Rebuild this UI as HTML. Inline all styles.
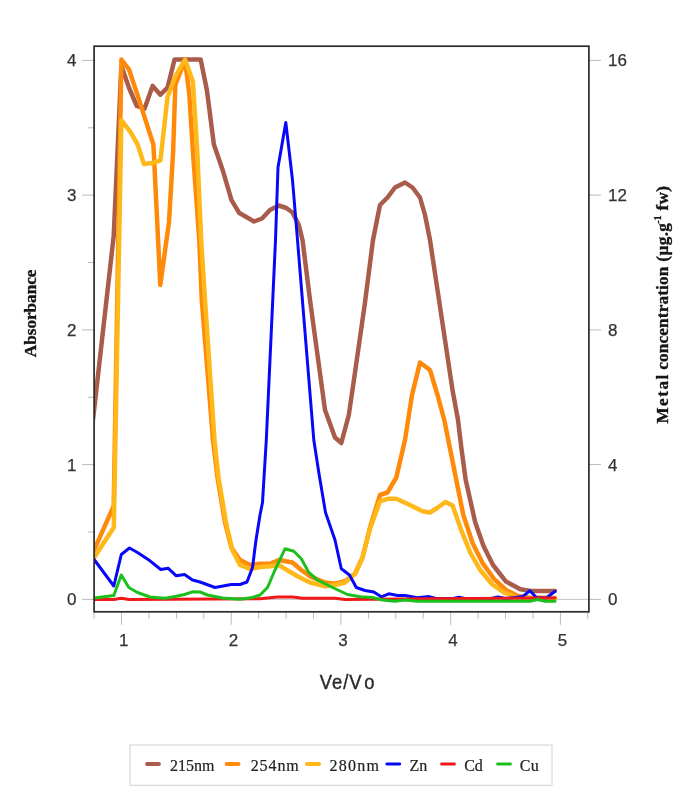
<!DOCTYPE html>
<html lang="en"><head><meta charset="utf-8"><title>Ve/Vo chart</title>
<style>html,body{margin:0;padding:0;background:#fff;}body{width:685px;height:799px;position:relative;overflow:hidden;}</style>
</head><body>
<svg width="685" height="799" viewBox="0 0 685 799" style="position:absolute;left:0;top:0;filter:blur(0.45px)">
<rect x="0" y="0" width="685" height="799" fill="#fff"/>
<line x1="94.1" y1="599.4" x2="588.9" y2="599.4" stroke="#c4c4c4" stroke-width="1"/>
<line x1="82" y1="599.4" x2="94.1" y2="599.4" stroke="#bababa" stroke-width="1"/>
<line x1="588.9" y1="599.4" x2="601" y2="599.4" stroke="#bababa" stroke-width="1"/>
<line x1="82" y1="464.6" x2="94.1" y2="464.6" stroke="#bababa" stroke-width="1"/>
<line x1="588.9" y1="464.6" x2="601" y2="464.6" stroke="#bababa" stroke-width="1"/>
<line x1="82" y1="329.9" x2="94.1" y2="329.9" stroke="#bababa" stroke-width="1"/>
<line x1="588.9" y1="329.9" x2="601" y2="329.9" stroke="#bababa" stroke-width="1"/>
<line x1="82" y1="195.1" x2="94.1" y2="195.1" stroke="#bababa" stroke-width="1"/>
<line x1="588.9" y1="195.1" x2="601" y2="195.1" stroke="#bababa" stroke-width="1"/>
<line x1="82" y1="60.4" x2="94.1" y2="60.4" stroke="#bababa" stroke-width="1"/>
<line x1="588.9" y1="60.4" x2="601" y2="60.4" stroke="#bababa" stroke-width="1"/>
<line x1="88" y1="532.0" x2="94.1" y2="532.0" stroke="#bababa" stroke-width="1"/>
<line x1="88" y1="397.3" x2="94.1" y2="397.3" stroke="#bababa" stroke-width="1"/>
<line x1="88" y1="262.5" x2="94.1" y2="262.5" stroke="#bababa" stroke-width="1"/>
<line x1="88" y1="127.8" x2="94.1" y2="127.8" stroke="#bababa" stroke-width="1"/>
<line x1="94.1" y1="611.8" x2="94.1" y2="618.8" stroke="#bababa" stroke-width="1"/>
<line x1="121.5" y1="611.8" x2="121.5" y2="624.8" stroke="#bababa" stroke-width="1"/>
<line x1="148.9" y1="611.8" x2="148.9" y2="618.8" stroke="#bababa" stroke-width="1"/>
<line x1="176.4" y1="611.8" x2="176.4" y2="618.8" stroke="#bababa" stroke-width="1"/>
<line x1="203.8" y1="611.8" x2="203.8" y2="618.8" stroke="#bababa" stroke-width="1"/>
<line x1="231.2" y1="611.8" x2="231.2" y2="624.8" stroke="#bababa" stroke-width="1"/>
<line x1="258.7" y1="611.8" x2="258.7" y2="618.8" stroke="#bababa" stroke-width="1"/>
<line x1="286.1" y1="611.8" x2="286.1" y2="618.8" stroke="#bababa" stroke-width="1"/>
<line x1="313.5" y1="611.8" x2="313.5" y2="618.8" stroke="#bababa" stroke-width="1"/>
<line x1="340.9" y1="611.8" x2="340.9" y2="624.8" stroke="#bababa" stroke-width="1"/>
<line x1="368.4" y1="611.8" x2="368.4" y2="618.8" stroke="#bababa" stroke-width="1"/>
<line x1="395.8" y1="611.8" x2="395.8" y2="618.8" stroke="#bababa" stroke-width="1"/>
<line x1="423.2" y1="611.8" x2="423.2" y2="618.8" stroke="#bababa" stroke-width="1"/>
<line x1="450.7" y1="611.8" x2="450.7" y2="624.8" stroke="#bababa" stroke-width="1"/>
<line x1="478.1" y1="611.8" x2="478.1" y2="618.8" stroke="#bababa" stroke-width="1"/>
<line x1="505.5" y1="611.8" x2="505.5" y2="618.8" stroke="#bababa" stroke-width="1"/>
<line x1="533.0" y1="611.8" x2="533.0" y2="618.8" stroke="#bababa" stroke-width="1"/>
<line x1="560.4" y1="611.8" x2="560.4" y2="624.8" stroke="#bababa" stroke-width="1"/>
<line x1="587.8" y1="611.8" x2="587.8" y2="618.8" stroke="#bababa" stroke-width="1"/>
<clipPath id="c"><rect x="94.1" y="46.2" width="494.8" height="565.6"/></clipPath>
<g clip-path="url(#c)" fill="none" stroke-linejoin="round" stroke-linecap="round">
<polyline points="92.0,428.0 94.1,410.0 113.7,236.0 121.4,66.0 129.1,88.0 136.8,106.0 144.5,108.7 152.6,85.9 160.4,94.7 167.5,87.7 174.5,59.6 200.7,59.6 206.9,90.3 213.9,144.6 222.7,170.2 231.5,200.2 239.0,212.7 254.0,221.5 262.0,218.5 270.0,210.0 278.8,205.5 286.3,208.0 292.5,212.5 298.8,225.0 302.5,240.0 310.0,300.0 317.5,355.0 325.0,410.0 335.0,437.5 341.3,443.0 348.8,415.0 355.0,372.5 365.0,302.5 373.0,240.0 380.0,205.0 387.5,197.5 395.0,187.5 405.0,182.5 412.5,187.5 420.0,197.5 425.0,215.0 430.0,240.0 437.5,290.0 445.0,340.0 452.5,390.0 458.0,420.0 461.5,449.0 465.6,479.4 475.2,522.2 483.5,546.0 493.0,565.0 506.0,581.6 520.3,589.2 532.2,591.1 555.0,591.1" stroke="#aa5c4b" stroke-width="4.5"/>
<polyline points="92.0,555.0 94.1,550.0 113.7,506.0 121.4,59.6 128.9,69.3 137.7,95.6 153.4,144.6 160.3,285.0 169.0,222.0 173.2,150.0 175.3,85.0 185.0,60.5 189.3,93.8 192.8,150.0 199.3,240.0 201.8,300.0 213.0,440.0 217.5,477.5 225.0,522.5 231.3,547.5 240.0,560.0 250.0,565.0 260.0,563.8 270.0,563.8 278.8,560.0 292.5,562.5 301.3,570.0 310.0,576.3 325.0,582.5 335.0,583.8 345.0,581.3 355.0,573.8 362.5,557.5 370.0,527.5 380.0,495.0 387.5,492.5 396.3,477.5 405.0,440.0 412.0,395.0 420.0,362.5 430.0,370.0 437.5,395.0 444.3,420.0 453.8,467.5 463.3,515.0 472.8,543.6 482.3,562.6 494.2,579.2 506.0,590.0 518.0,595.9 528.0,597.5 555.0,598.0" stroke="#ff8a0a" stroke-width="4.5"/>
<polyline points="92.0,561.0 94.1,557.5 113.8,527.5 121.4,120.0 130.7,132.3 137.7,144.6 143.8,163.9 152.6,163.0 160.4,160.4 167.5,97.3 175.3,76.3 185.0,59.6 192.9,81.5 197.2,150.0 201.2,240.0 205.0,300.0 214.5,440.0 218.5,477.5 226.0,522.5 232.3,550.0 240.0,565.0 250.0,569.0 260.0,567.0 270.0,566.3 278.8,565.0 285.0,568.8 297.5,576.3 310.0,582.5 325.0,586.3 335.0,585.0 345.0,582.5 355.0,573.8 362.5,557.5 370.0,528.8 380.0,501.3 387.5,498.8 396.3,498.8 410.0,505.0 422.5,511.3 430.0,512.5 437.1,508.0 445.4,502.0 452.6,505.6 460.9,529.3 470.4,553.0 480.0,569.7 491.8,584.0 503.7,592.3 515.6,597.0 526.0,598.3 555.0,598.5" stroke="#ffb81a" stroke-width="4.5"/>
<polyline points="92.0,557.0 94.1,559.5 113.8,586.0 121.3,554.5 129.5,548.0 137.5,552.5 150.0,560.8 160.8,569.5 168.3,568.3 176.3,575.8 184.5,574.5 192.5,580.0 200.0,582.0 215.0,587.5 231.3,584.5 240.0,584.5 247.0,582.0 252.5,567.5 256.0,540.0 260.0,515.0 262.5,502.5 266.3,440.0 275.5,240.0 278.0,167.5 285.8,122.5 292.5,180.0 297.5,240.0 313.8,440.0 318.8,472.5 325.5,512.5 335.0,540.0 341.3,568.8 349.5,575.0 356.3,587.5 365.0,590.5 373.8,592.0 381.3,596.8 388.8,593.8 397.5,595.5 405.0,595.5 417.5,597.8 429.0,596.6 437.0,598.6 452.0,598.6 459.0,597.2 466.0,598.6 490.0,598.6 498.0,597.0 506.0,598.4 522.5,596.6 530.0,590.8 536.3,597.5 546.3,598.0 555.0,591.3" stroke="#0808f8" stroke-width="3.0"/>
<polyline points="92.0,599.5 113.8,599.5 121.3,598.3 129.0,599.5 260.0,598.8 277.5,597.0 292.5,597.0 302.5,598.3 335.0,598.3 345.0,599.5 430.0,598.8 555.0,598.0" stroke="#f01818" stroke-width="3.0"/>
<polyline points="92.0,598.2 94.1,598.0 113.8,595.5 121.3,575.0 128.8,587.5 137.5,592.5 150.0,597.0 165.0,598.3 176.3,596.3 184.5,594.5 192.5,591.8 200.0,592.0 207.5,595.0 222.5,598.0 240.0,599.3 252.5,597.5 260.0,595.0 267.5,587.5 275.0,570.0 285.0,548.8 293.8,551.3 301.3,558.8 308.8,572.5 317.5,580.0 332.5,587.5 347.5,594.5 360.0,596.8 372.5,597.5 382.5,600.0 395.0,601.3 405.0,600.0 417.5,601.3 430.0,601.3 530.0,601.3 537.5,599.5 545.0,601.3 555.0,601.3" stroke="#1cc01c" stroke-width="3.0"/>
</g>
<rect x="94.1" y="46.2" width="494.8" height="565.6" fill="none" stroke="#2a2a2a" stroke-width="1.7"/>
<text x="76.5" y="605.3" text-anchor="end" font-family="Liberation Sans, Arial, sans-serif" font-size="17" fill="#333" stroke="#333" stroke-width="0.25">0</text>
<text x="608" y="605.3" text-anchor="start" font-family="Liberation Sans, Arial, sans-serif" font-size="17" fill="#333" stroke="#333" stroke-width="0.25">0</text>
<text x="76.5" y="470.5" text-anchor="end" font-family="Liberation Sans, Arial, sans-serif" font-size="17" fill="#333" stroke="#333" stroke-width="0.25">1</text>
<text x="608" y="470.5" text-anchor="start" font-family="Liberation Sans, Arial, sans-serif" font-size="17" fill="#333" stroke="#333" stroke-width="0.25">4</text>
<text x="76.5" y="335.8" text-anchor="end" font-family="Liberation Sans, Arial, sans-serif" font-size="17" fill="#333" stroke="#333" stroke-width="0.25">2</text>
<text x="608" y="335.8" text-anchor="start" font-family="Liberation Sans, Arial, sans-serif" font-size="17" fill="#333" stroke="#333" stroke-width="0.25">8</text>
<text x="76.5" y="201.0" text-anchor="end" font-family="Liberation Sans, Arial, sans-serif" font-size="17" fill="#333" stroke="#333" stroke-width="0.25">3</text>
<text x="608" y="201.0" text-anchor="start" font-family="Liberation Sans, Arial, sans-serif" font-size="17" fill="#333" stroke="#333" stroke-width="0.25">12</text>
<text x="76.5" y="66.3" text-anchor="end" font-family="Liberation Sans, Arial, sans-serif" font-size="17" fill="#333" stroke="#333" stroke-width="0.25">4</text>
<text x="608" y="66.3" text-anchor="start" font-family="Liberation Sans, Arial, sans-serif" font-size="17" fill="#333" stroke="#333" stroke-width="0.25">16</text>
<text x="123.7" y="645.8" text-anchor="middle" font-family="Liberation Sans, Arial, sans-serif" font-size="17" fill="#333" stroke="#333" stroke-width="0.25">1</text>
<text x="233.4" y="645.8" text-anchor="middle" font-family="Liberation Sans, Arial, sans-serif" font-size="17" fill="#333" stroke="#333" stroke-width="0.25">2</text>
<text x="343.1" y="645.8" text-anchor="middle" font-family="Liberation Sans, Arial, sans-serif" font-size="17" fill="#333" stroke="#333" stroke-width="0.25">3</text>
<text x="452.9" y="645.8" text-anchor="middle" font-family="Liberation Sans, Arial, sans-serif" font-size="17" fill="#333" stroke="#333" stroke-width="0.25">4</text>
<text x="562.6" y="645.8" text-anchor="middle" font-family="Liberation Sans, Arial, sans-serif" font-size="17" fill="#333" stroke="#333" stroke-width="0.25">5</text>
<text transform="translate(319.7,688.5) scale(0.92,1)" x="0 13.4 25.5 32.1 48.5" y="0" font-family="Liberation Sans, Arial, sans-serif" font-size="20" fill="#2a2a2a" stroke="#2a2a2a" stroke-width="0.4">Ve/Vo</text>
<text transform="translate(35.6,357.2) rotate(-90)" x="0" y="0" font-family="Liberation Serif, Times New Roman, serif" font-weight="bold" font-size="17.15" fill="#151515" stroke="#151515" stroke-width="0.35">Absorbance</text>
<text transform="translate(667.8,423.6) rotate(-90)" y="0" font-family="Liberation Serif, Times New Roman, serif" font-weight="bold" font-size="17.15" fill="#151515" stroke="#151515" stroke-width="0.35"><tspan x="0" letter-spacing="1.5">Metal</tspan><tspan x="49.5" letter-spacing="0.16"> concentration</tspan><tspan x="157.2" letter-spacing="0.4"> (µg.g</tspan><tspan x="200.2" dy="-6.5" font-size="9.5" letter-spacing="0">-1</tspan><tspan x="208.4" dy="6.5" letter-spacing="0.4"> fw)</tspan></text>
<rect x="130" y="745" width="422" height="40.3" fill="#fff" stroke="#d2d2d2" stroke-width="1"/>
<line x1="147.1" y1="764" x2="158.9" y2="764" stroke="#aa5c4b" stroke-width="4.0" stroke-linecap="round"/>
<text x="170" y="770.5" letter-spacing="0" font-family="Liberation Serif, Times New Roman, serif" font-size="16" fill="#222" stroke="#222" stroke-width="0.2">215nm</text>
<line x1="226.7" y1="764" x2="238.5" y2="764" stroke="#ff8a0a" stroke-width="4.0" stroke-linecap="round"/>
<text x="250.7" y="770.5" letter-spacing="0.9" font-family="Liberation Serif, Times New Roman, serif" font-size="16" fill="#222" stroke="#222" stroke-width="0.2">254nm</text>
<line x1="307.0" y1="764" x2="319" y2="764" stroke="#ffb81a" stroke-width="4.0" stroke-linecap="round"/>
<text x="329.6" y="770.5" letter-spacing="1.2" font-family="Liberation Serif, Times New Roman, serif" font-size="16" fill="#222" stroke="#222" stroke-width="0.2">280nm</text>
<line x1="386.8" y1="764" x2="399.8" y2="764" stroke="#0808f8" stroke-width="2.8" stroke-linecap="round"/>
<text x="409.6" y="770.5" letter-spacing="0" font-family="Liberation Serif, Times New Roman, serif" font-size="16" fill="#222" stroke="#222" stroke-width="0.2">Zn</text>
<line x1="441.5" y1="764" x2="454.5" y2="764" stroke="#f01818" stroke-width="2.8" stroke-linecap="round"/>
<text x="464.2" y="770.5" letter-spacing="0" font-family="Liberation Serif, Times New Roman, serif" font-size="16" fill="#222" stroke="#222" stroke-width="0.2">Cd</text>
<line x1="497.5" y1="764" x2="510.5" y2="764" stroke="#1cc01c" stroke-width="2.8" stroke-linecap="round"/>
<text x="519.7" y="770.5" letter-spacing="0.3" font-family="Liberation Serif, Times New Roman, serif" font-size="16" fill="#222" stroke="#222" stroke-width="0.2">Cu</text>
</svg>
</body></html>
